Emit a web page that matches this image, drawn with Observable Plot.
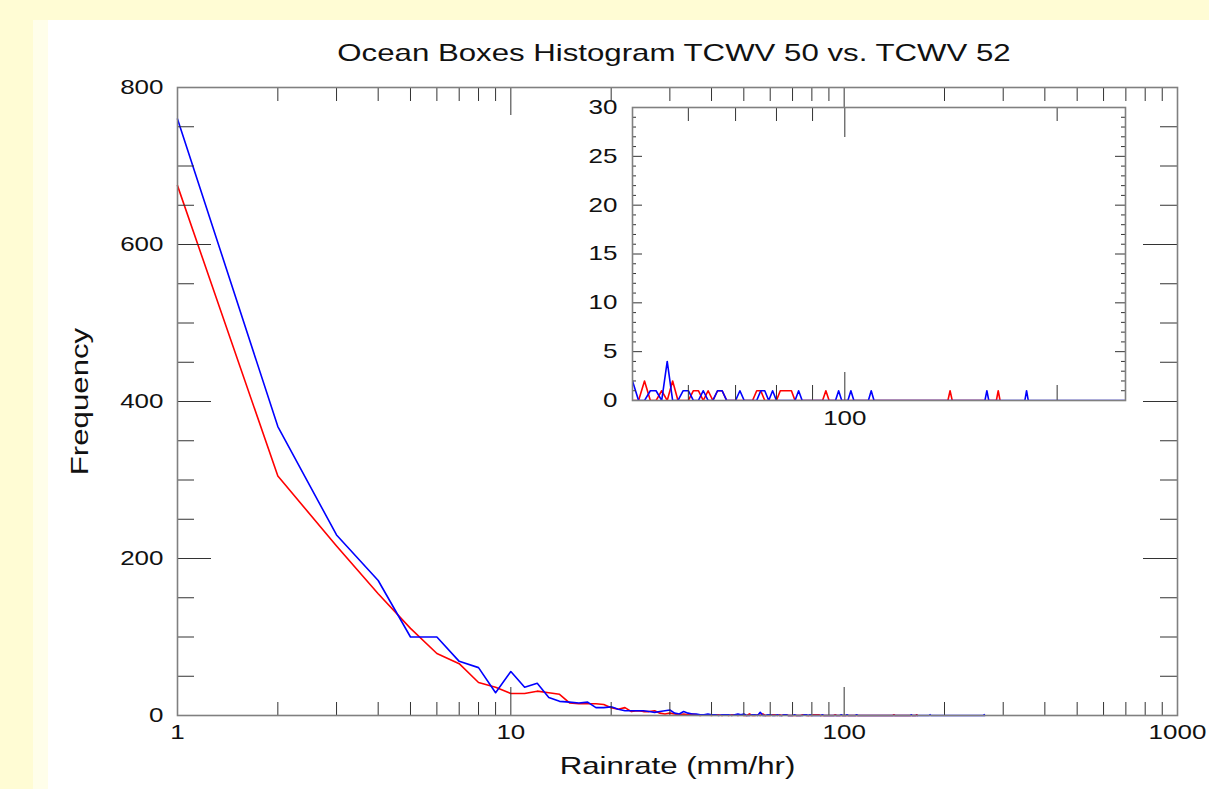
<!DOCTYPE html>
<html>
<head>
<meta charset="utf-8">
<script src="https://cdn.jsdelivr.net/npm/d3@7"></script>
<script src="https://cdn.jsdelivr.net/npm/@observablehq/plot@0.6"></script>
<style>
html, body { margin: 0; padding: 0; }
body { width: 1209px; height: 789px; background: #FFFCD4; position: relative; overflow: hidden;
       font-family: "Liberation Sans", Arial, Helvetica, sans-serif; }
#strip { position: absolute; left: 33px; top: 20px; width: 15px; height: 769px; background: #FFFEEA; }
#panel { position: absolute; left: 48px; top: 20px; right: 0; bottom: 0; background: #ffffff; }
#title { position: absolute; left: 174px; top: 41px; width: 1000px; text-align: center;
         font-size: 24px; line-height: 24px; color: #111; }
#title span { display: inline-block; transform: scaleX(1.3); }
#main { position: absolute; left: 0; top: 70px; }
#inset { position: absolute; left: 572px; top: 97px; }
</style>
</head>
<body>
<div id="strip"></div>
<div id="panel"></div>
<div id="title"><span>Ocean Boxes Histogram TCWV 50 vs. TCWV 52</span></div>
<div id="main"></div>
<div id="inset"></div>
<script>
// ---- Data (rain rate bins in mm/hr, frequency counts) ----
const redRate = [1,2,3,4,5,6,7,8,9,10,11,12,13,14,15,16,17,18,19,20,
  21,22,23,24,25,26,27,28,29,30,31,32,33,34,35,36,37,38,39,40,
  41,42,43,44,45,46,47,48,49,50,51,52,53,54,55,56,57,58,59,60,
  61,62,63,64,65,66,67,68,69,70,71,72,73,74,75,76,77,78,79,80,
  81,82,83,84,85,86,87,88,89,90,91,92,93,94,95,140,141,142,164,165,166];
const redCount = [675,305,216,155,111,79,66,42,36,28,28,31,29,27,16,15,15,15,14,10,
  8,10,5,6,5,5,6,3,2,3,2,1,2,1,2,1,0,1,1,0,
  1,1,0,1,0,1,1,0,1,0,0,2,0,0,1,0,2,0,0,0,
  1,1,0,1,0,1,1,0,0,0,0,0,0,0,1,1,0,0,0,0,
  1,1,1,1,0,0,0,0,0,0,0,0,0,1,0,0,1,0,0,1,0];

const blueRate = [1,2,3,4,5,6,7,8,9,10,11,12,13,14,15,16,17,18,19,20,
  21,22,23,24,25,26,27,28,29,30,31,32,33,34,35,36,37,38,39,40,
  41,42,43,44,45,46,47,48,49,50,51,52,53,54,55,56,57,58,59,60,
  61,62,63,64,65,66,67,68,69,70,71,72,73,74,75,76,77,78,79,80,
  81,82,83,84,85,86,87,88,89,90,91,92,93,94,95,96,97,98,99,100,
  101,102,103,104,105,106,107,108,109,110,158,159,160,180,181,182,262,263,264];
const blueCount = [760,368,230,172,100,100,69,61,29,56,36,41,23,18,17,16,17,10,10,11,
  8,6,6,6,6,5,4,5,6,7,3,2,5,3,2,2,1,1,2,1,
  1,0,1,1,1,0,1,2,1,2,0,0,1,1,0,4,0,0,1,1,
  0,0,1,0,0,1,1,0,0,0,1,0,0,0,0,1,1,0,1,0,
  0,0,0,0,0,1,0,0,0,0,0,0,0,0,0,0,0,1,0,0,
  0,1,0,0,0,0,0,0,1,0,0,1,0,0,1,0,0,1,0];

// ---- Tick values ----
const mainLabelX = [1, 10, 100, 1000];
const mainLabelY = [0, 200, 400, 600, 800];
const mainMinorX = [2,3,4,5,6,7,8,9,20,30,40,50,60,70,80,90,200,300,400,500,600,700,800,900];
const mainMajorX = [10, 100];
const mainMinorY = [50,100,150,250,300,350,450,500,550,650,700,750];
const mainMajorY = [200, 400, 600];

const insetLabelX = [100];
const insetLabelY = [0, 5, 10, 15, 20, 25, 30];
const insetMinorX = [60, 70, 80, 90, 200];
const insetMajorX = [100];
const insetMinorY = [1,2,3,4,6,7,8,9,11,12,13,14,16,17,18,19,21,22,23,24,26,27,28,29];
const insetMajorY = [5, 10, 15, 20, 25];

const red = redRate.map((r, i) => ({rate: r, count: redCount[i]}));
const blue = blueRate.map((r, i) => ({rate: r, count: blueCount[i]}));

const FONT = "Liberation Sans, Arial, Helvetica, sans-serif";
const TICK = "#333";
const FRAME = "#808080";

function stretchText(svg, k) {
  svg.querySelectorAll("text").forEach(t => {
    const tr = t.getAttribute("transform") || "";
    t.setAttribute("transform", tr + ` scale(${k},1)`);
  });
}

// ---- Main chart ----
const mW = 1000, mH = 628;
const main = Plot.plot({
  width: 1209, height: 719,
  marginLeft: 177, marginRight: 32, marginTop: 17, marginBottom: 74,
  style: {background: "transparent", fontFamily: FONT, fontSize: "20px", color: "#111"},
  x: {type: "log", domain: [1, 1000]},
  y: {domain: [0, 800]},
  marks: [
    Plot.line(red, {x: "rate", y: "count", stroke: "#ff0000", strokeWidth: 1.6}),
    Plot.line(blue, {x: "rate", y: "count", stroke: "#0000ff", strokeWidth: 1.6}),
    Plot.tickX(mainMinorX, {x: d => d, insetTop: mH - 13, stroke: TICK}),
    Plot.tickX(mainMinorX, {x: d => d, insetBottom: mH - 14, stroke: TICK}),
    Plot.tickX(mainMajorX, {x: d => d, insetTop: mH - 28, stroke: TICK}),
    Plot.tickX(mainMajorX, {x: d => d, insetBottom: mH - 28, stroke: TICK}),
    Plot.tickY(mainMinorY, {y: d => d, insetRight: mW - 17, stroke: TICK}),
    Plot.tickY(mainMinorY, {y: d => d, insetLeft: mW - 17, stroke: TICK}),
    Plot.tickY(mainMajorY, {y: d => d, insetRight: mW - 34, stroke: TICK}),
    Plot.tickY(mainMajorY, {y: d => d, insetLeft: mW - 34, stroke: TICK}),
    Plot.frame({stroke: FRAME, strokeWidth: 1.6}),
    Plot.axisX({ticks: mainLabelX, tickFormat: d => String(d), tickSize: 0, tickPadding: 9, label: null}),
    Plot.axisY({ticks: mainLabelY, tickFormat: d => String(d), tickSize: 0, tickPadding: 14, label: null}),
    Plot.text(["Rainrate (mm/hr)"], {text: d => d, frameAnchor: "bottom", dy: 58, fontSize: 24, fill: "#111"}),
    Plot.text(["Frequency"], {text: d => d, frameAnchor: "left", textAnchor: "middle", dx: -97, rotate: -90, fontSize: 24, fill: "#111"})
  ]
});
stretchText(main, 1.3);
document.getElementById("main").append(main);

// ---- Inset chart ----
const iW = 493, iH = 293;
const inset = Plot.plot({
  width: 563, height: 333,
  marginLeft: 60, marginRight: 10, marginTop: 10, marginBottom: 30,
  style: {background: "transparent", fontFamily: FONT, fontSize: "20px", color: "#111"},
  x: {type: "log", domain: [50, 250]},
  y: {domain: [0, 30]},
  marks: [
    Plot.frame({fill: "white"}),
    Plot.line(red, {x: "rate", y: "count", stroke: "#ff0000", strokeWidth: 1.6, clip: true}),
    Plot.line(blue, {x: "rate", y: "count", stroke: "#0000ff", strokeWidth: 1.6, clip: true}),
    Plot.tickX(insetMinorX, {x: d => d, insetTop: iH - 15, stroke: TICK}),
    Plot.tickX(insetMinorX, {x: d => d, insetBottom: iH - 14, stroke: TICK}),
    Plot.tickX(insetMajorX, {x: d => d, insetTop: iH - 28, stroke: TICK}),
    Plot.tickX(insetMajorX, {x: d => d, insetBottom: iH - 30, stroke: TICK}),
    Plot.tickY(insetMinorY, {y: d => d, insetRight: iW - 4, stroke: TICK}),
    Plot.tickY(insetMinorY, {y: d => d, insetLeft: iW - 4, stroke: TICK}),
    Plot.tickY(insetMajorY, {y: d => d, insetRight: iW - 10, stroke: TICK}),
    Plot.tickY(insetMajorY, {y: d => d, insetLeft: iW - 10, stroke: TICK}),
    Plot.frame({stroke: FRAME, strokeWidth: 1.6}),
    Plot.axisX({ticks: insetLabelX, tickFormat: d => String(d), tickSize: 0, tickPadding: 10, label: null}),
    Plot.axisY({ticks: insetLabelY, tickFormat: d => String(d), tickSize: 0, tickPadding: 15, label: null})
  ]
});
stretchText(inset, 1.3);
document.getElementById("inset").append(inset);
</script>
</body>
</html>
